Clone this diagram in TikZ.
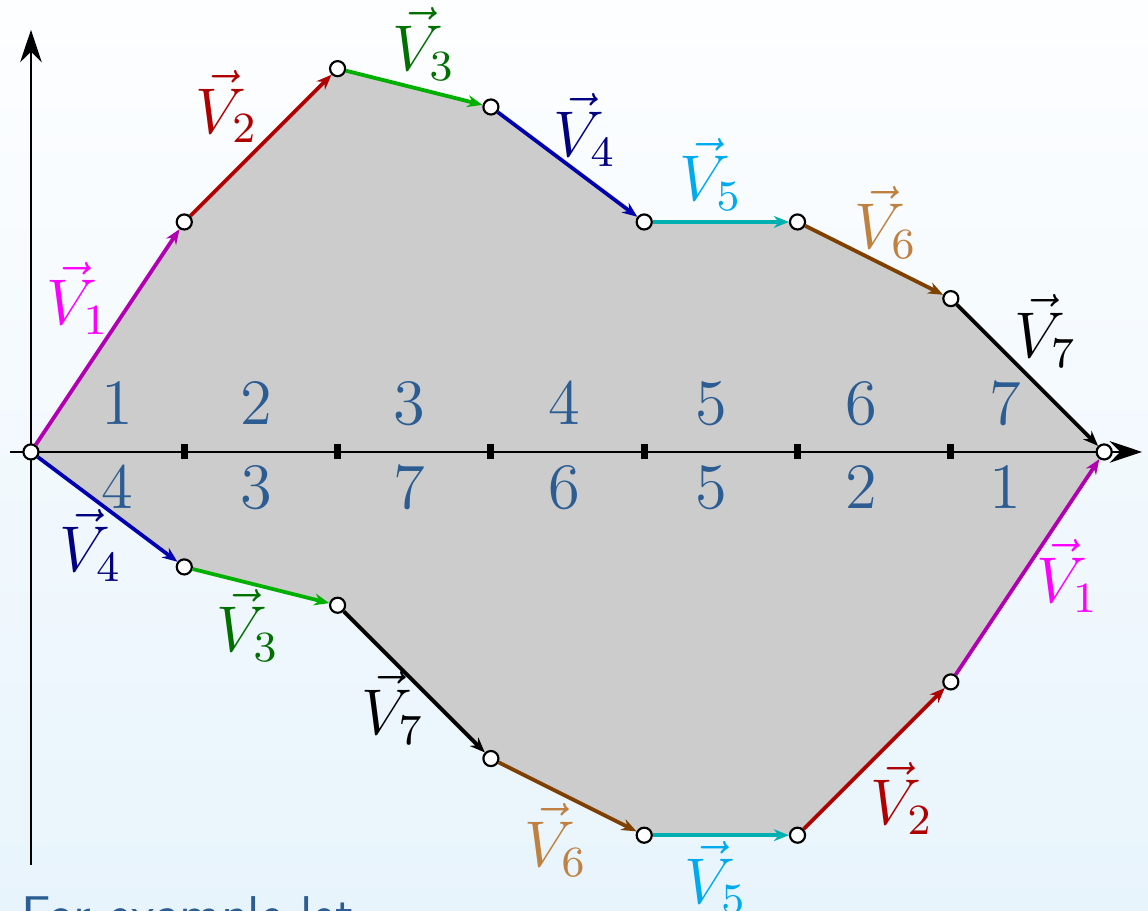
\documentclass[tikz,border=0pt]{standalone}
\usepackage{tikz}
\usepackage{amsmath}
\usetikzlibrary{arrows.meta}
\definecolor{bgtop}{HTML}{FDFEFF}
\definecolor{bgbottom}{HTML}{E8F4FC}
\definecolor{numblue}{HTML}{2B5C92}
\definecolor{vecone}{HTML}{B000B0}
\definecolor{labone}{HTML}{FF00FF}
\definecolor{vectwo}{HTML}{B00000}
\definecolor{labtwo}{HTML}{B00000}
\definecolor{vecthree}{HTML}{00B000}
\definecolor{labthree}{HTML}{007000}
\definecolor{vecfour}{HTML}{0000B0}
\definecolor{labfour}{HTML}{000080}
\definecolor{vecfive}{HTML}{00B0B0}
\definecolor{labfive}{HTML}{00AAEE}
\definecolor{vecsix}{HTML}{804000}
\definecolor{labsix}{HTML}{C08040}
\tikzset{
  vtx/.style={circle, draw, fill=white, line width=0.4pt, minimum size=2.8pt,
              inner sep=0pt},
  axistick/.style={fill=black, inner sep=0pt, minimum width=1.3pt, minimum height=2.8pt},
  axisline/.style={thin, -{Stealth[length=6pt,width=4pt]}},
  vec/.style={line width=0.7pt, -{Stealth[length=2.8pt,width=2.2pt]}},
  num/.style={text=numblue, font=\fontsize{11.5}{14}\selectfont},
  veclab/.style={font=\fontsize{11.5}{14}\selectfont},
}
\begin{document}
\begin{tikzpicture}
    \useasboundingbox (-0.202,-2.988) rectangle (7.286,2.948);
    \clip (-0.202,-2.988) rectangle (7.286,2.948);
    \shade[top color=bgtop, bottom color=bgbottom] (-0.202,-2.988) rectangle (7.286,2.948);
    \fill[gray!40] (0,0) -- (1,1.5) -- (2,2.5) -- (3,2.25) -- (4,1.5) -- (5,1.5) -- (6,1)
      -- (7,0) -- (6,-1.5) -- (5,-2.5) -- (4,-2.5) -- (3,-2) -- (2,-1) -- (1,-0.75) -- cycle;
    \coordinate (xl) at (-0.137,0);
    \coordinate (xr) at (7.247,0);
    \coordinate (yb) at (0,-2.694);
    \coordinate (yt) at (0,2.753);
    \draw[axisline] (xl) -- (xr);
    \draw[axisline] (yb) -- (yt);
    \node[axistick] (k1) at (1,0) {};
    \node[axistick] (k2) at (2,0) {};
    \node[axistick] (k3) at (3,0) {};
    \node[axistick] (k4) at (4,0) {};
    \node[axistick] (k5) at (5,0) {};
    \node[axistick] (k6) at (6,0) {};
    \node[vtx] (p0) at (0,0) {};
    \node[vtx] (p1) at (1,1.5) {};
    \node[vtx] (p2) at (2,2.5) {};
    \node[vtx] (p3) at (3,2.25) {};
    \node[vtx] (p4) at (4,1.5) {};
    \node[vtx] (p5) at (5,1.5) {};
    \node[vtx] (p6) at (6,1) {};
    \node[vtx] (p7) at (7,0) {};
    \node[vtx] (q1) at (1,-0.75) {};
    \node[vtx] (q2) at (2,-1) {};
    \node[vtx] (q3) at (3,-2) {};
    \node[vtx] (q4) at (4,-2.5) {};
    \node[vtx] (q5) at (5,-2.5) {};
    \node[vtx] (q6) at (6,-1.5) {};
    \draw[vec, vecone] (p0) -- (p1);
    \draw[vec, vectwo] (p1) -- (p2);
    \draw[vec, vecthree] (p2) -- (p3);
    \draw[vec, vecfour] (p3) -- (p4);
    \draw[vec, vecfive] (p4) -- (p5);
    \draw[vec, vecsix] (p5) -- (p6);
    \draw[vec, black] (p6) -- (p7);
    \draw[vec, vecfour] (p0) -- (q1);
    \draw[vec, vecthree] (q1) -- (q2);
    \draw[vec, black] (q2) -- (q3);
    \draw[vec, vecsix] (q3) -- (q4);
    \draw[vec, vecfive] (q4) -- (q5);
    \draw[vec, vectwo] (q5) -- (q6);
    \draw[vec, vecone] (q6) -- (p7);
    \node[veclab, text=labone] (lp1) at (0.307,1.004) {$\vec{V}_1$};
    \node[veclab, text=labtwo] (lp2) at (1.276,2.252) {$\vec{V}_2$};
    \node[veclab, text=labthree] (lp3) at (2.564,2.661) {$\vec{V}_3$};
    \node[veclab, text=labfour] (lp4) at (3.614,2.10) {$\vec{V}_4$};
    \node[veclab, text=labfive] (lp5) at (4.436,1.809) {$\vec{V}_5$};
    \node[veclab, text=labsix] (lp6) at (5.577,1.496) {$\vec{V}_6$};
    \node[veclab, text=black] (lp7) at (6.618,0.789) {$\vec{V}_7$};
    \node[veclab, text=labfour] (lq1) at (0.390,-0.607) {$\vec{V}_4$};
    \node[veclab, text=labthree] (lq2) at (1.415,-1.13) {$\vec{V}_3$};
    \node[veclab, text=black] (lq3) at (2.361,-1.67) {$\vec{V}_7$};
    \node[veclab, text=labsix] (lq4) at (3.425,-2.531) {$\vec{V}_6$};
    \node[veclab, text=labfive] (lq5) at (4.466,-2.776) {$\vec{V}_5$};
    \node[veclab, text=labtwo] (lq6) at (5.682,-2.26) {$\vec{V}_2$};
    \node[veclab, text=labone] (lq7) at (6.761,-0.809) {$\vec{V}_1$};
    \node[num] (n1) at (0.564,0.316) {$1$};
    \node[num] (n2) at (1.468,0.316) {$2$};
    \node[num] (n3) at (2.470,0.316) {$3$};
    \node[num] (n4) at (3.477,0.316) {$4$};
    \node[num] (n5) at (4.440,0.316) {$5$};
    \node[num] (n6) at (5.414,0.316) {$6$};
    \node[num] (n7) at (6.354,0.316) {$7$};
    \node[num] (m1) at (0.564,-0.235) {$4$};
    \node[num] (m2) at (1.468,-0.235) {$3$};
    \node[num] (m3) at (2.470,-0.235) {$7$};
    \node[num] (m4) at (3.477,-0.235) {$6$};
    \node[num] (m5) at (4.440,-0.235) {$5$};
    \node[num] (m6) at (5.414,-0.235) {$2$};
    \node[num] (m7) at (6.354,-0.235) {$1$};
    \node[text=numblue, font=\sffamily\fontsize{9.6}{11}\selectfont, anchor=base west,
          inner sep=0pt] (caption) at (-0.072,-3.137) {For example let};
\end{tikzpicture}
\end{document}
